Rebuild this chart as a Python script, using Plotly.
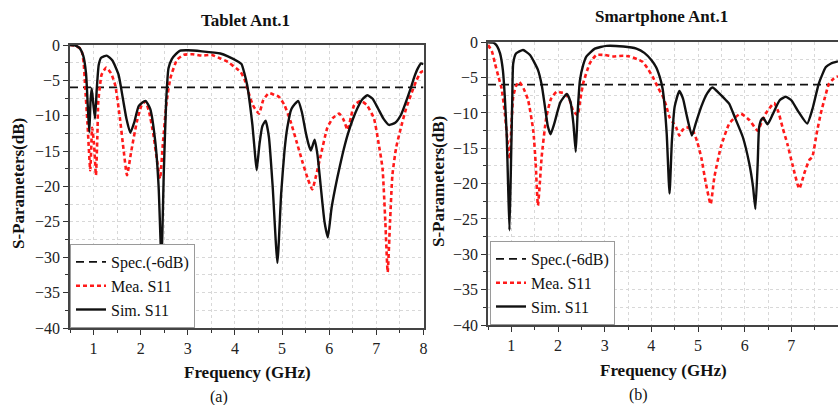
import plotly.graph_objects as go

W, H = 838, 405

# ---- Tablet Ant.1 ----
tab_sim_f = [0.5, 0.6, 0.7, 0.78, 0.84, 0.88, 0.91, 0.935, 0.96, 0.99, 1.03, 1.07, 1.11, 1.16, 1.28,
             1.4, 1.53, 1.62, 1.7, 1.78, 1.86, 1.96, 2.1, 2.2, 2.31, 2.38, 2.44, 2.49, 2.54, 2.59,
             2.66, 2.73, 2.84, 3.0, 3.3, 3.69, 3.85, 4.08, 4.14, 4.2, 4.26, 4.32, 4.37, 4.42, 4.46,
             4.52, 4.58, 4.65, 4.72, 4.8, 4.9, 4.98, 5.05, 5.11, 5.2, 5.34, 5.42, 5.5, 5.56, 5.61,
             5.69, 5.75, 5.82, 5.9, 5.97, 6.05, 6.17, 6.28, 6.39, 6.5, 6.6, 6.7, 6.81, 6.92, 7.03,
             7.15, 7.27, 7.4, 7.52, 7.63, 7.73, 7.8, 7.88, 7.95, 8.0]
tab_sim_db = [0, -0.05, -0.4, -1.5, -4, -9, -12.3, -8, -6.1, -8, -10.4, -6, -2.8, -1.8, -1.5,
              -2.2, -4.2, -7.5, -10.5, -12.4, -11, -8.6, -7.9, -9, -13.7, -20, -30.5, -18, -8, -3.3,
              -2, -1.4, -0.8, -0.75, -0.9, -1.2, -1.6, -2.4, -2.7, -4, -5.7, -8.5, -11.3, -15, -17.7,
              -14, -11.5, -10.7, -13, -20, -30.8, -21, -15, -11.7, -9, -7.9, -9.5, -12.3, -14, -14.9,
              -13.4, -15.5, -20, -25, -27.2, -23, -18.8, -15.5, -12.7, -10.5, -8.9, -7.7, -7.1, -7.6, -8.9,
              -10.4, -11.3, -11, -9.9, -8, -6.1, -4.6, -3.3, -2.6, -2.7]

tab_mea_f = [0.5, 0.6, 0.7, 0.75, 0.79, 0.82, 0.87, 0.93, 0.97, 1.01, 1.05, 1.08, 1.1, 1.14, 1.17,
             1.27, 1.37, 1.46, 1.56, 1.64, 1.71, 1.8, 1.92, 2.02, 2.1, 2.18, 2.27, 2.35, 2.41, 2.47,
             2.55, 2.63, 2.77, 2.91, 3.1, 3.3, 3.5, 3.69, 3.85, 3.97, 4.05, 4.12, 4.2, 4.26, 4.38,
             4.51, 4.6, 4.72, 4.85, 4.93, 5.05, 5.18, 5.3, 5.43, 5.55, 5.64, 5.72, 5.82, 5.96, 6.08,
             6.21, 6.3, 6.39, 6.46, 6.53, 6.67, 6.8, 6.95, 7.05, 7.13, 7.19, 7.24, 7.29, 7.34, 7.42,
             7.52, 7.63, 7.73, 7.85, 7.95, 8.0]
tab_mea_db = [0, -0.1, -0.4, -0.9, -2.5, -5.7, -11, -17.7, -11.7, -14, -18.4, -13, -8, -5.5, -4.2,
              -3.2, -4, -5.7, -10.4, -15, -18.4, -15, -10.8, -8.5, -8, -9.5, -12.7, -16.5, -18.9, -14,
              -8, -4.7, -2.1, -1.4, -1.3, -1.5, -1.4, -1.9, -2.4, -3.0, -3.4, -3.8, -4.8, -6.1, -8.5,
              -9.7, -7.8, -6.8, -7.1, -7.3, -8.5, -10.8, -13.5, -16.5, -19, -20.4, -18.5, -15.6, -11.7, -10.3,
              -9.7, -10.5, -12, -10.2, -8.5, -7.9, -8.5, -10.4, -14, -17.4, -25, -32.1, -25, -18.4, -14.5,
              -11.7, -9, -7.1, -5, -3.8, -3.7]

# ---- Smartphone Ant.1 ----
ph_sim_f = [0.5, 0.6, 0.65, 0.7, 0.76, 0.82, 0.86, 0.9, 0.93, 0.96, 0.99, 1.02, 1.04, 1.1, 1.25,
            1.4, 1.57, 1.65, 1.72, 1.78, 1.84, 1.92, 2.05, 2.19, 2.27, 2.33, 2.38, 2.42, 2.47, 2.54,
            2.61, 2.79, 3.04, 3.4, 3.68, 3.85, 4.0, 4.1, 4.18, 4.24, 4.28, 4.33, 4.39, 4.44, 4.5,
            4.6, 4.68, 4.75, 4.87, 4.95, 5.07, 5.2, 5.31, 5.45, 5.6, 5.67, 5.8, 5.96, 6.1, 6.18,
            6.23, 6.28, 6.31, 6.36, 6.4, 6.49, 6.6, 6.75, 6.88, 7.0, 7.15, 7.34, 7.45, 7.59, 7.74,
            7.85, 8.0]
ph_sim_db = [0, -0.05, -0.2, -0.6, -1.6, -4, -7.7, -13, -20, -26.6, -18, -8, -3, -1.6, -1.1,
             -1.8, -3.9, -6, -9.1, -11.8, -13, -11.5, -8.5, -7.3, -8.5, -11.5, -15.5, -10, -5.4, -3.2,
             -2, -0.9, -0.5, -0.6, -0.9, -1.5, -2.5, -3.5, -4.9, -6.5, -8.7, -13, -21.4, -14, -9.1,
             -6.9, -8, -10.1, -13.2, -11.5, -9.1, -7.2, -6.4, -7.2, -8.2, -8.7, -10.8, -13.4, -17.2, -20.5,
             -23.6, -17, -12, -10.9, -10.7, -11.6, -10.2, -8.2, -7.7, -8.2, -9.8, -11.5, -9.5, -5.8, -3.5,
             -3, -2.7]

ph_mea_f = [0.5, 0.58, 0.65, 0.72, 0.79, 0.86, 0.93, 0.97, 1.0, 1.04, 1.1, 1.17, 1.26, 1.36, 1.47,
            1.52, 1.57, 1.61, 1.65, 1.75, 1.85, 1.97, 2.06, 2.15, 2.25, 2.32, 2.42, 2.48, 2.54, 2.68,
            2.82, 3.0, 3.2, 3.4, 3.53, 3.74, 3.82, 3.93, 4.03, 4.15, 4.25, 4.32, 4.39, 4.46, 4.53,
            4.6, 4.67, 4.75, 4.82, 4.89, 4.98, 5.07, 5.17, 5.27, 5.35, 5.49, 5.67, 5.8, 5.92, 6.1,
            6.28, 6.37, 6.45, 6.63, 6.72, 6.81, 6.92, 7.02, 7.17, 7.28, 7.38, 7.45, 7.54, 7.63, 7.72,
            7.81, 7.9, 8.0]
ph_mea_db = [-0.4, -1.2, -3, -4.8, -6.5, -10, -14.8, -16.5, -12, -7.7, -6.2, -5.6, -6.5, -8.2, -12.5,
             -17, -23.1, -20, -16.2, -10.6, -8, -7, -7.1, -7.2, -8.2, -9.6, -10.3, -8, -5.8, -3,
             -1.8, -1.8, -2.0, -1.9, -2.0, -2.5, -2.8, -3.8, -4.9, -6.5, -7.7, -9, -10.6, -11.3, -12,
             -13.2, -12.4, -12, -12.2, -12.5, -14, -16.3, -20, -22.9, -19.1, -14.8, -11.5, -10.6, -10.1, -11,
             -12.5, -11.2, -10.1, -8.6, -9.8, -12, -14.5, -17.2, -20.7, -18.5, -16.7, -16.2, -13, -10.1, -7.8,
             -5.8, -5.2, -4.8]

spec_f = [0.5, 8.0]
spec_db = [-6, -6]

x_ticks = [1, 2, 3, 4, 5, 6, 7, 8]
y_ticks = [0, -5, -10, -15, -20, -25, -30, -35, -40]

SERIF = "Liberation Serif"
RED = "#ff1a1a"

fig = go.Figure()

panels = [
    ("x", "y", "legend", tab_mea_f, tab_mea_db, tab_sim_f, tab_sim_db),
    ("x2", "y2", "legend2", ph_mea_f, ph_mea_db, ph_sim_f, ph_sim_db),
]
for xa, ya, lg, mf, md, sf, sd in panels:
    fig.add_trace(go.Scatter(x=spec_f, y=spec_db, mode="lines", name="Spec.(-6dB)",
                             line=dict(color="#111111", width=1.8, dash="8px,5px"),
                             xaxis=xa, yaxis=ya, legend=lg))
    fig.add_trace(go.Scatter(x=mf, y=md, mode="lines", name="Mea. S11",
                             line=dict(color=RED, width=2.6, dash="4px,3px", shape="spline", smoothing=0.5),
                             xaxis=xa, yaxis=ya, legend=lg))
    fig.add_trace(go.Scatter(x=sf, y=sd, mode="lines", name="Sim. S11",
                             line=dict(color="#111111", width=2.4, shape="spline", smoothing=0.5),
                             xaxis=xa, yaxis=ya, legend=lg))

def xaxis(domain, anchor):
    return dict(domain=domain, anchor=anchor, range=[0.5, 8], tickvals=x_ticks, automargin=False,
                ticks="outside", ticklen=5, tickwidth=1.2, tickcolor="#333",
                showline=True, linecolor="#444", linewidth=1.5, mirror=True,
                showgrid=False, zeroline=False,
                minor=dict(dtick=0.5, tick0=0.5, ticks="outside", ticklen=3, tickcolor="#333",
                           showgrid=True, gridcolor="#d8d8d8", griddash="dot", gridwidth=1),
                tickfont=dict(family=SERIF, size=16, color="#222"))

def yaxis(domain, anchor):
    return dict(domain=domain, anchor=anchor, range=[-40, 0], tickvals=y_ticks, automargin=False,
                ticks="outside", ticklen=5, tickwidth=1.2, tickcolor="#333",
                showline=True, linecolor="#444", linewidth=1.5, mirror=True,
                showgrid=False, zeroline=False,
                minor=dict(dtick=2.5, tick0=0, ticks="outside", ticklen=3, tickcolor="#333",
                           showgrid=True, gridcolor="#d8d8d8", griddash="dot", gridwidth=1),
                tickfont=dict(family=SERIF, size=16, color="#222"))

ya_dom = [1 - 328 / H, 1 - 45 / H]
yb_dom = [1 - 325 / H, 1 - 42.3 / H]

legend_common = dict(xanchor="left", yanchor="bottom", bgcolor="white",
                     bordercolor="#9a9a9a", borderwidth=1, tracegroupgap=0,
                     font=dict(family=SERIF, size=16, color="#111"))

fig.update_layout(
    width=W, height=H, margin=dict(l=0, r=0, t=0, b=0, autoexpand=False),
    paper_bgcolor="white", plot_bgcolor="white",
    xaxis=xaxis([70 / W, 423.5 / W], "y"),
    yaxis=yaxis(ya_dom, "x"),
    xaxis2=xaxis([488 / W, 1.0], "y2"),
    yaxis2=yaxis(yb_dom, "x2"),
    legend=dict(x=70 / W, y=ya_dom[0], **legend_common),
    legend2=dict(x=490 / W, y=yb_dom[0], **legend_common),
)

def label(text, x, y, size=16, bold=True, angle=0):
    fig.add_annotation(text=f"<b>{text}</b>" if bold else text, x=x / W, y=1 - y / H,
                       xref="paper", yref="paper", showarrow=False, textangle=angle,
                       xanchor="center", yanchor="middle",
                       font=dict(family=SERIF, size=size, color="#111"))

label("Tablet Ant.1", 245, 20, size=17)
label("Smartphone Ant.1", 661, 16, size=17)
label("Frequency (GHz)", 247, 372, size=17)
label("Frequency (GHz)", 663, 370, size=17)
label("S-Parameters(dB)", 18, 184, size=17, angle=-90)
label("S-Parameters(dB)", 438, 182, size=17, angle=-90)
label("(a)", 219, 397, size=16, bold=False)
label("(b)", 638, 395, size=16, bold=False)

fig.write_html("out.html")
